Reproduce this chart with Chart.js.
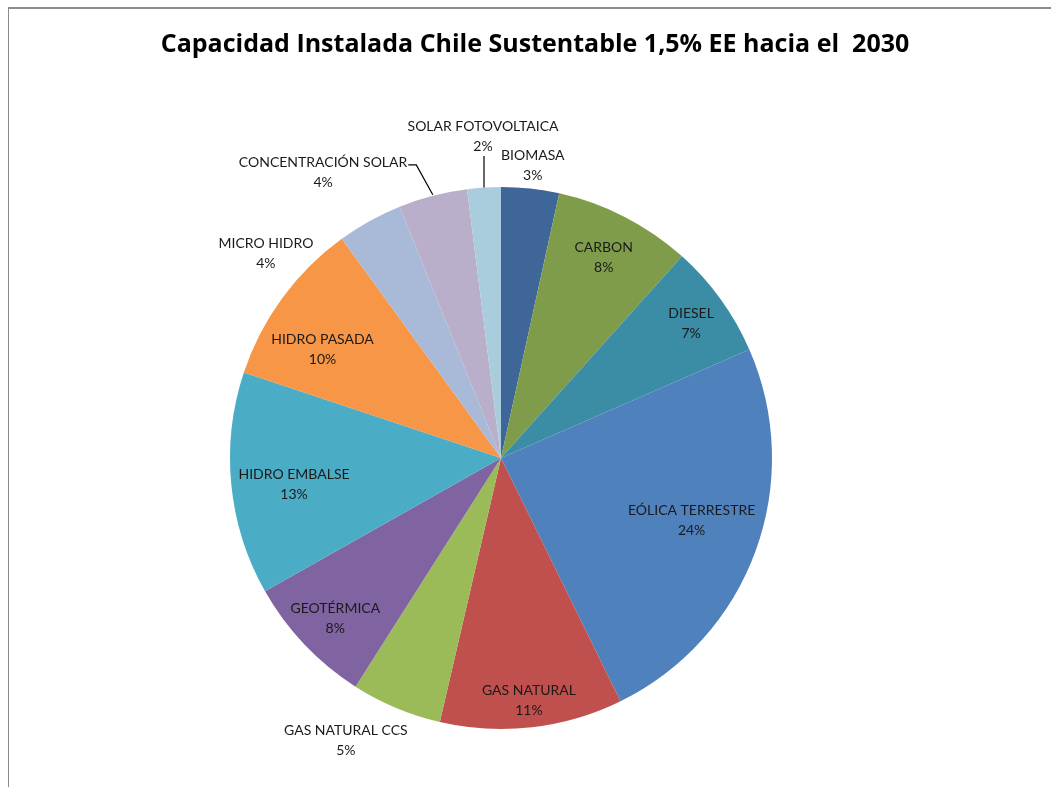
<!DOCTYPE html>
<html>
<head>
<meta charset="utf-8">
<script src="https://cdn.jsdelivr.net/npm/chart.js@4"></script>
<style>
  html, body { margin: 0; padding: 0; background: #fff; }
  #frame {
    position: absolute; left: 8px; top: 7px; width: 1043px; height: 780px;
    border-left: 1px solid #8c8c8c; border-top: 2px solid #8c8c8c; box-sizing: border-box;
  }
  #wrap { position: absolute; left: 0; top: 0; width: 1051px; height: 787px; }
</style>
</head>
<body>
<div id="frame"></div>
<div id="wrap"><canvas id="chart-pie"></canvas></div>
<script>
const chartTitle = "Capacidad Instalada Chile Sustentable 1,5% EE hacia el  2030";
const categories = [
  "BIOMASA", "CARBON", "DIESEL", "EÓLICA TERRESTRE", "GAS NATURAL",
  "GAS NATURAL CCS", "GEOTÉRMICA", "HIDRO EMBALSE", "HIDRO PASADA",
  "MICRO HIDRO", "CONCENTRACIÓN SOLAR", "SOLAR FOTOVOLTAICA"
];
const shares = [3.45, 8.2, 6.8, 24.3, 10.9, 5.4, 7.8, 13.3, 9.9, 3.9, 4.1, 2.0];
const percentLabels = ["3%", "8%", "7%", "24%", "11%", "5%", "8%", "13%", "10%", "4%", "4%", "2%"];

const sliceColors = [
  "#3F6699", "#7F9C4A", "#3B8CA5", "#4F81BD", "#C0504D", "#9BBB59",
  "#8064A2", "#4BACC6", "#F79646", "#A9BAD9", "#BAAFCB", "#A9CDDC"
];
// label placement: [radius factor of outer radius, angle offset in degrees from slice middle]
const labelPlace = [
  [1.085, 0], [0.83, 0], [0.86, 0.5], [0.74, -2], [0.9, 0], [1.19, 6],
  [0.85, -0.5], [0.77, -1.8], [0.77, -5], [1.15, -20], [1.24, -17.4], [1.19, 0.4]
];
// slices with a leader line from the label to the arc
const leaderLines = { 10: true, 11: true };

const labelPlugin = {
  id: "sliceLabels",
  afterDatasetsDraw(chart) {
    const ctx = chart.ctx;
    const arcs = chart.getDatasetMeta(0).data;
    ctx.save();
    // title
    ctx.font = "bold 25px 'Open Sans', sans-serif";
    ctx.fillStyle = "#000";
    ctx.textAlign = "center";
    ctx.textBaseline = "middle";
    ctx.fillText(chartTitle, 535, 45);

    ctx.font = "14px Lato, 'Open Sans', sans-serif";
    ctx.fillStyle = "#1a1a1a";
    arcs.forEach((arc, i) => {
      const p = arc.getProps(["x", "y", "startAngle", "endAngle", "outerRadius"], true);
      const mid = (p.startAngle + p.endAngle) / 2 + labelPlace[i][1] * Math.PI / 180;
      const r = p.outerRadius * labelPlace[i][0];
      const lx = p.x + Math.cos(mid) * r;
      const ly = p.y + Math.sin(mid) * r;
      ctx.fillText(categories[i], lx, ly - 10);
      ctx.fillText(percentLabels[i], lx, ly + 10);
      if (leaderLines[i]) {
        const am = (p.startAngle + p.endAngle) / 2;
        const ex = p.x + Math.cos(am) * p.outerRadius;
        const ey = p.y + Math.sin(am) * p.outerRadius;
        ctx.strokeStyle = "#000";
        ctx.lineWidth = 1.2;
        ctx.beginPath();
        if (i === 10) {
          const w = ctx.measureText(categories[i]).width;
          ctx.moveTo(lx + w / 2 + 1, ly - 8);
          ctx.lineTo(lx + w / 2 + 9, ly - 8);
          ctx.lineTo(ex, ey - 1);
        } else {
          ctx.moveTo(ex, ly + 20);
          ctx.lineTo(ex, ey);
        }
        ctx.stroke();
      }
    });
    ctx.restore();
  }
};

const ctx = document.getElementById("chart-pie").getContext("2d");
new Chart(ctx, {
  type: "pie",
  data: {
    labels: categories,
    datasets: [{
      data: shares,
      backgroundColor: sliceColors,
      borderWidth: 0
    }]
  },
  options: {
    responsive: true,
    maintainAspectRatio: false,
    animation: false,
    layout: { padding: { top: 187, bottom: 58, left: 230, right: 279 } },
    plugins: {
      legend: { display: false },
      tooltip: { enabled: false },
      title: { display: false }
    }
  },
  plugins: [labelPlugin]
});
</script>
</body>
</html>
